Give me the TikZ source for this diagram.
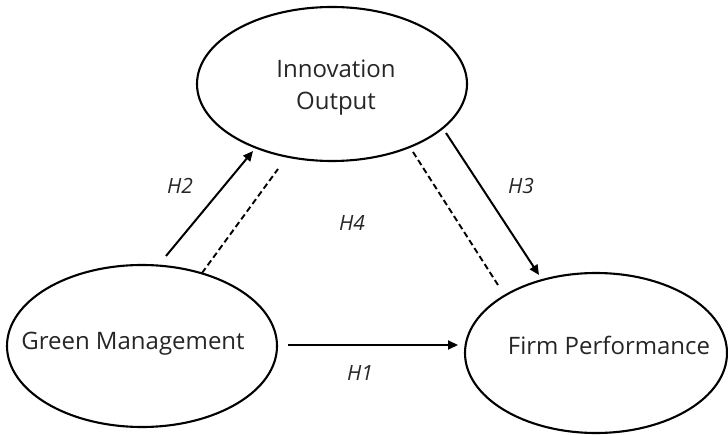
\documentclass[tikz,border=0pt]{standalone}
\usepackage{fontspec}
\setmainfont{Open Sans}
\usetikzlibrary{shapes.geometric,arrows.meta}
\definecolor{ink}{HTML}{262626}
\begin{document}
\begin{tikzpicture}[x=1pt,y=-1pt,
  construct/.style={draw=black,line width=2.1pt,ellipse,inner sep=0pt},
  label/.style={text=ink,font=\fontsize{24}{32}\selectfont,align=center},
  path/.style={draw=black,line width=2pt,-{Triangle[length=10pt,width=9pt]}},
  mediation/.style={draw=black,line width=1.9pt,dash pattern=on 6pt off 3.5pt},
  hyp/.style={text=ink,font=\fontsize{21}{24}\selectfont\itshape}]
\useasboundingbox (0,0) rectangle (728,435);
% latent constructs
\node[construct,minimum width=270pt,minimum height=154pt] (io) at (332,84) {};
\node[construct,minimum width=270pt,minimum height=162pt] (gm) at (142,346) {};
\node[construct,minimum width=262pt,minimum height=160pt] (fp) at (596,353) {};
\node[label] (iotext) at (336,88) {Innovation\\Output};
\node[label,anchor=base] (gmtext) at (133,350) {Green Management};
\node[label,anchor=base] (fptext) at (609,355) {Firm Performance};
% connector end points
\coordinate (h1s) at (288,345);
\coordinate (h1e) at (458,345);
\coordinate (h2s) at (166,256);
\coordinate (h2e) at (253,151);
\coordinate (h2ds) at (202,273);
\coordinate (h2de) at (278,169);
\coordinate (h3s) at (446,133);
\coordinate (h3e) at (539,275);
\coordinate (h3ds) at (413,152);
\coordinate (h3de) at (498,285);
% direct and indirect paths
\draw[path] (h1s) -- (h1e);
\draw[path] (h2s) -- (h2e);
\draw[path] (h3s) -- (h3e);
\draw[mediation] (h2ds) -- (h2de);
\draw[mediation] (h3ds) -- (h3de);
% hypothesis labels
\node[hyp] (lh1) at (360,373) {H1};
\node[hyp] (lh2) at (180,186) {H2};
\node[hyp] (lh3) at (521,186) {H3};
\node[hyp] (lh4) at (352,223) {H4};
\end{tikzpicture}
\end{document}
